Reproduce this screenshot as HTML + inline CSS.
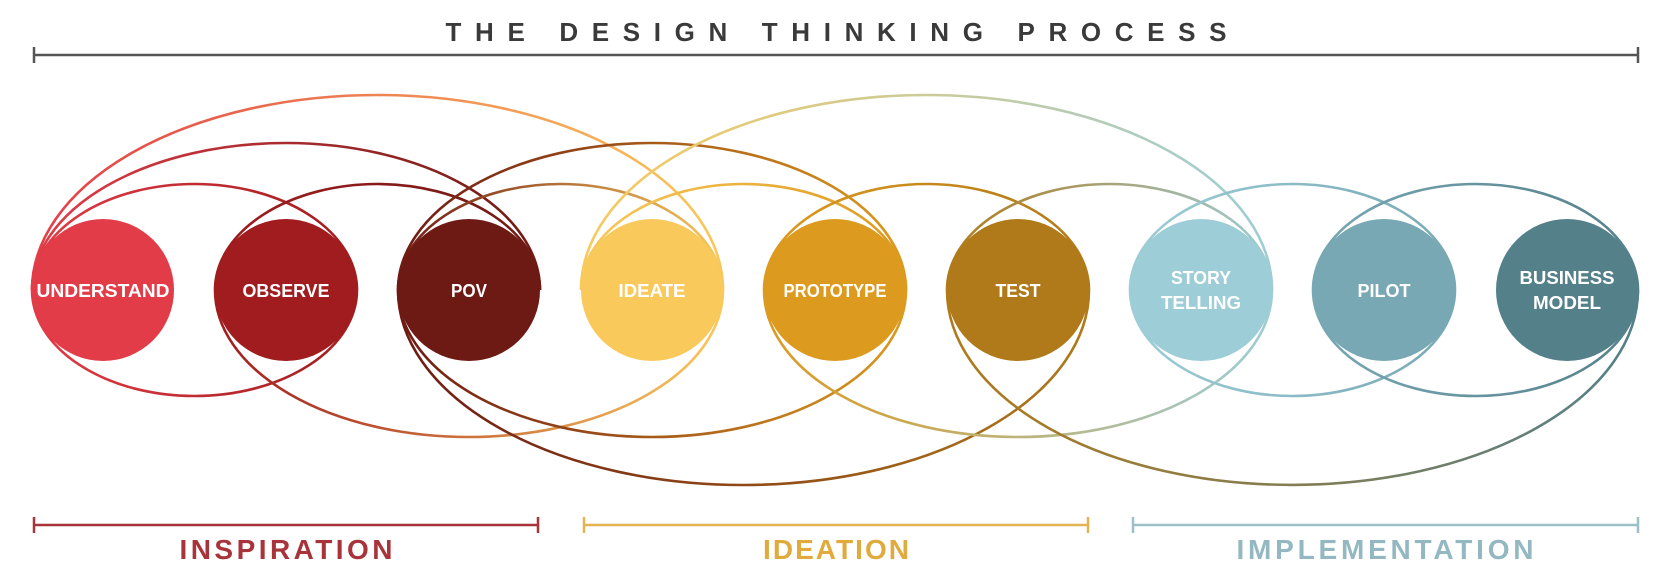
<!DOCTYPE html>
<html><head><meta charset="utf-8"><style>
html,body{margin:0;padding:0;background:#fff;width:1674px;height:586px;overflow:hidden}
svg{display:block}
text{font-family:"Liberation Sans",sans-serif;font-weight:bold}
</style></head><body>
<svg id="s" width="1674" height="586" viewBox="0 0 1674 586" xmlns="http://www.w3.org/2000/svg">
<defs id="d"></defs>
<g id="arcs" fill="none" stroke-width="2.6"></g>
<g id="circ"></g>
<text x="836" y="41" font-size="26" fill="#3a3a3a" text-anchor="middle" textLength="781" lengthAdjust="spacing">THE DESIGN THINKING PROCESS</text>
<g stroke="#555" stroke-width="2.5"><line x1="34" y1="55" x2="1638" y2="55"/><line x1="34" y1="47" x2="34" y2="63"/><line x1="1638" y1="47" x2="1638" y2="63"/></g>
<g stroke="#a8333a" stroke-width="2.5"><line x1="34" y1="525" x2="538" y2="525"/><line x1="34" y1="517" x2="34" y2="533"/><line x1="538" y1="517" x2="538" y2="533"/></g>
<g stroke="#e2b550" stroke-width="2.5"><line x1="584" y1="525" x2="1088" y2="525"/><line x1="584" y1="517" x2="584" y2="533"/><line x1="1088" y1="517" x2="1088" y2="533"/></g>
<g stroke="#9dbfc8" stroke-width="2.5"><line x1="1133" y1="525" x2="1638" y2="525"/><line x1="1133" y1="517" x2="1133" y2="533"/><line x1="1638" y1="517" x2="1638" y2="533"/></g>
<text x="286" y="559" font-size="28" fill="#a8333a" text-anchor="middle" textLength="213" lengthAdjust="spacing">INSPIRATION</text>
<text x="836" y="559" font-size="28" fill="#e0ab3c" text-anchor="middle" textLength="146" lengthAdjust="spacing">IDEATION</text>
<text x="1385" y="559" font-size="28" fill="#93b8c2" text-anchor="middle" textLength="297" lengthAdjust="spacing">IMPLEMENTATION</text>
</svg>
<script>
(function(){
var cx=[103,286,469,652,835,1018,1201,1384,1567],cy=290,r=71;
var col=["#e23c48","#a01c1e","#6e1a14","#f9c95c","#dc9a1e","#b07a1a","#9dcdd6","#78a8b4","#54808a"];
var lab=[["UNDERSTAND",133],["OBSERVE",87],["POV",36],["IDEATE",67],["PROTOTYPE",103],["TEST",45],["STORY",60,"TELLING",80],["PILOT",53],["BUSINESS",95,"MODEL",68]];
var ns="http://www.w3.org/2000/svg";
function el(t,a,p){var e=document.createElementNS(ns,t);for(var k in a)e.setAttribute(k,a[k]);p.appendChild(e);return e;}
var d=document.getElementById("d"),A=document.getElementById("arcs"),C=document.getElementById("circ");
var ryMap={1:106,2:147,3:195};
var topArcs=[[0,1],[0,2],[0,3],[1,2],[2,3],[2,4],[3,4],[3,6],[4,5],[5,6],[6,7],[7,8]];
var botArcs=[[0,1],[1,3],[2,4],[2,5],[4,6],[5,8],[6,7],[7,8]];
var n=0;
function arc(p,up){var i=p[0],j=p[1],L=cx[i]-r,R=cx[j]+r,rx=(R-L)/2,ry=ryMap[j-i];
 var g=el("linearGradient",{id:"g"+n,gradientUnits:"userSpaceOnUse",x1:L,y1:0,x2:R,y2:0},d);
 el("stop",{offset:"0","stop-color":col[i]},g);el("stop",{offset:"1","stop-color":col[j]},g);
 el("path",{d:"M"+L+","+cy+" A"+rx+","+ry+" 0 0 "+(up?1:0)+" "+R+","+cy,stroke:"url(#g"+n+")"},A);n++;}
topArcs.forEach(function(p){arc(p,1)});botArcs.forEach(function(p){arc(p,0)});
for(var i=0;i<9;i++){el("circle",{cx:cx[i],cy:cy,r:r,fill:col[i]},C);
 var l=lab[i],t;
 if(l.length==2){t=el("text",{x:cx[i],y:cy+7,"font-size":18,fill:"#fff","text-anchor":"middle",textLength:l[1],lengthAdjust:"spacingAndGlyphs"},C);t.textContent=l[0];}
 else{t=el("text",{x:cx[i],y:cy-6,"font-size":18,fill:"#fff","text-anchor":"middle",textLength:l[1],lengthAdjust:"spacingAndGlyphs"},C);t.textContent=l[0];
 var t2=el("text",{x:cx[i],y:cy+19,"font-size":18,fill:"#fff","text-anchor":"middle",textLength:l[3],lengthAdjust:"spacingAndGlyphs"},C);t2.textContent=l[2];}}
})();
</script>
</body></html>
